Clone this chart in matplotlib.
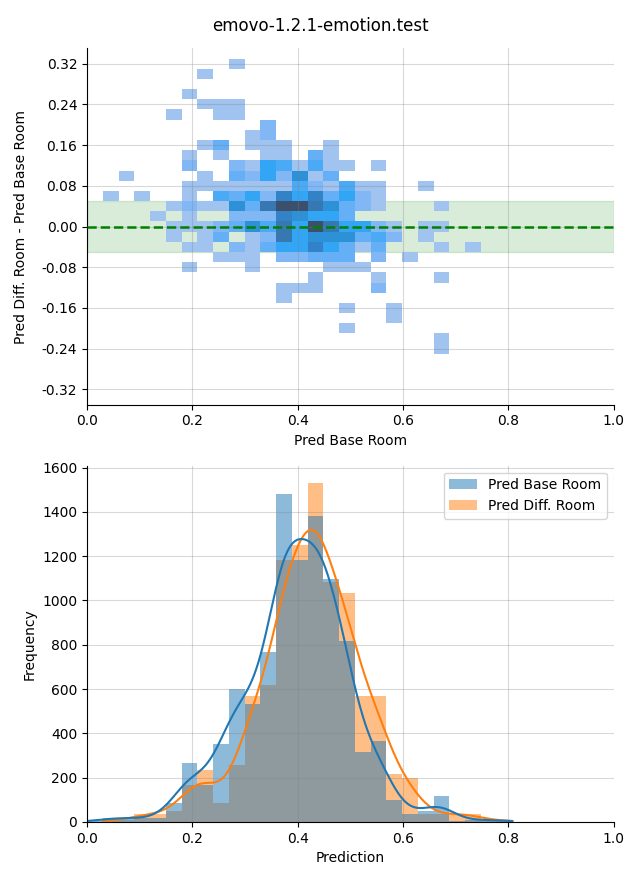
"""
Rebuild the emovo room-shift figure: 2D histogram of prediction shift on top,
overlaid prediction histograms with KDE below. Writes out.png.
"""

from __future__ import annotations

from typing import List, Tuple

import matplotlib

matplotlib.use("Agg")
import matplotlib.pyplot as plt
import numpy as np
from matplotlib.colors import LinearSegmentedColormap, Normalize

TITLE = "emovo-1.2.1-emotion.test"
BASE_LABEL = "Pred Base Room"
DIFF_LABEL = "Pred Diff. Room"

# shared x bins (27 bins from 0.0)
X_BIN_START = 0.0
X_BIN_WIDTH = 0.0299
# y bins of the 2D histogram, from the top edge downwards
Y_BIN_TOP = 0.330
Y_BIN_HEIGHT = 0.0200

# bar heights per x bin
BASE_COUNTS = [5, 18, 18, 17, 17, 87, 267, 167, 353, 601, 533, 768, 1482, 1184,
               1383, 1098, 818, 317, 366, 99, 36, 50, 117, 5, 10, 8, 8]
DIFF_COUNTS = [0, 8, 8, 36, 36, 51, 167, 235, 87, 255, 569, 619, 1184, 1252,
               1532, 1085, 1035, 569, 569, 217, 197, 36, 36, 36, 36, 5, 8]

# 2D histogram cells, one string per y bin from top to bottom,
# one char per x bin: '.' empty, 1..9 relative density
DENSITY_ROWS = [
    ".........1.................",
    ".......1...................",
    "...........................",
    "......1....................",
    ".......111.................",
    ".....1..11.................",
    "...........2...............",
    "..........12...............",
    ".......13.111..1...........",
    "......1.1..11.31...........",
    "......2..21541411.1........",
    "..1....1.3252613...........",
    "......1111111421411..1.....",
    ".1.1..1.43527573521........",
    ".....12116389986321...1....",
    "....1.1..22276553..........",
    ".....111236485985521.11....",
    ".....1.13.1285666342.1.....",
    "......11.2135575313...1.1..",
    "........111.22333.2.1......",
    "......1...1....111.........",
    "..............1...1...1....",
    "............111...2........",
    "............1..............",
    "................1..1.......",
    "...................1.......",
    "................1..........",
    "......................1....",
    "......................1....",
]

# colour ramp for the density cells (light -> saturated -> dark)
DENSITY_COLORS = ["#b3d0f3", "#a0c3f0", "#80b7f5", "#64aff5", "#4baaf5",
                  "#32a5f5", "#2d91d7", "#3282c8", "#3778b4", "#3c506e"]

BLUE = "#1f77b4"
ORANGE = "#ff7f0e"


def x_edges(n_bins: int) -> np.ndarray:
    return X_BIN_START + X_BIN_WIDTH * np.arange(n_bins + 1)


def density_grid(rows: List[str]) -> Tuple[np.ndarray, np.ndarray, np.ma.MaskedArray]:
    """Turn the row strings into edges + masked count grid (bottom row first)."""
    grid = np.array([[0 if c == "." else int(c) for c in row] for row in rows], dtype=float)
    grid = grid[::-1]
    n_y, n_x = grid.shape
    xe = x_edges(n_x)
    ye = Y_BIN_TOP - Y_BIN_HEIGHT * np.arange(n_y + 1)
    ye = ye[::-1]
    return xe, ye, np.ma.masked_equal(grid, 0)


def kde_line(edges: np.ndarray, counts: np.ndarray, adjust: float = 1.0):
    """Gaussian KDE on binned counts, scaled to histogram counts (cut at data range)."""
    centers = (edges[:-1] + edges[1:]) / 2
    n = counts.sum()
    mean = (counts * centers).sum() / n
    std = np.sqrt((counts * (centers - mean) ** 2).sum() / n + X_BIN_WIDTH ** 2 / 12)
    bw = std * n ** (-1 / 5) * adjust
    nz = np.nonzero(counts)[0]
    xs = np.linspace(edges[nz[0]], edges[nz[-1] + 1], 400)
    kern = np.exp(-0.5 * ((xs[:, None] - centers[None, :]) / bw) ** 2)
    dens = (kern * counts[None, :]).sum(axis=1) / (n * bw * np.sqrt(2 * np.pi))
    return xs, dens * n * X_BIN_WIDTH


def style_axes(ax) -> None:
    ax.spines["top"].set_visible(False)
    ax.spines["right"].set_visible(False)
    ax.grid(True, color="gray", alpha=0.3, linewidth=0.8)


def plot_shift(ax) -> None:
    xe, ye, grid = density_grid(DENSITY_ROWS)
    cmap = LinearSegmentedColormap.from_list("dens", DENSITY_COLORS)
    ax.axhspan(-0.05, 0.05, color="green", alpha=0.15, zorder=0)
    ax.pcolormesh(xe, ye, grid, cmap=cmap, norm=Normalize(0, 9), zorder=1)
    ax.axhline(0, color="green", linestyle="--", linewidth=1.8, zorder=3)
    ax.set_xlim(0, 1)
    ax.set_ylim(-0.35, 0.35)
    ticks = np.arange(-0.32, 0.33, 0.08)
    ax.set_yticks(ticks)
    ax.set_yticklabels([f"{v:.2f}" for v in ticks])
    ax.set_xlabel(BASE_LABEL)
    ax.set_ylabel(f"{DIFF_LABEL} - {BASE_LABEL}", labelpad=10)
    style_axes(ax)


def plot_hist(ax) -> None:
    base = np.array(BASE_COUNTS, dtype=float)
    diff = np.array(DIFF_COUNTS, dtype=float)
    edges = x_edges(len(base))

    # blue is layered over orange, like seaborn's hue order
    ax.bar(edges[:-1], diff, width=X_BIN_WIDTH, align="edge", color=ORANGE,
           alpha=0.5, linewidth=0, label=DIFF_LABEL, zorder=1)
    ax.bar(edges[:-1], base, width=X_BIN_WIDTH, align="edge", color=BLUE,
           alpha=0.5, linewidth=0, label=BASE_LABEL, zorder=1)

    xs, ys = kde_line(edges, diff, adjust=1.8)
    ax.plot(xs, ys, color=ORANGE, linewidth=1.5, zorder=2)
    xs, ys = kde_line(edges, base, adjust=1.8)
    ax.plot(xs, ys, color=BLUE, linewidth=1.5, zorder=2)

    handles, labels = ax.get_legend_handles_labels()
    ax.legend(handles[::-1], labels[::-1], loc="upper right")
    ax.set_xlim(0, 1)
    ax.set_ylim(0, max(base.max(), diff.max()) * 1.05)
    ax.set_yticks(np.arange(0, 1601, 200))
    ax.set_xlabel("Prediction")
    ax.set_ylabel("Frequency")
    style_axes(ax)


def main() -> None:
    fig, (ax_top, ax_bot) = plt.subplots(2, 1, figsize=(6.4, 8.8), dpi=100)
    fig.subplots_adjust(left=0.136, right=0.959, top=0.945, bottom=0.066, hspace=0.171)
    fig.suptitle(TITLE, fontsize=12, y=0.981)
    plot_shift(ax_top)
    plot_hist(ax_bot)
    fig.savefig("out.png", dpi=100)
    plt.close(fig)


if __name__ == "__main__":
    main()
